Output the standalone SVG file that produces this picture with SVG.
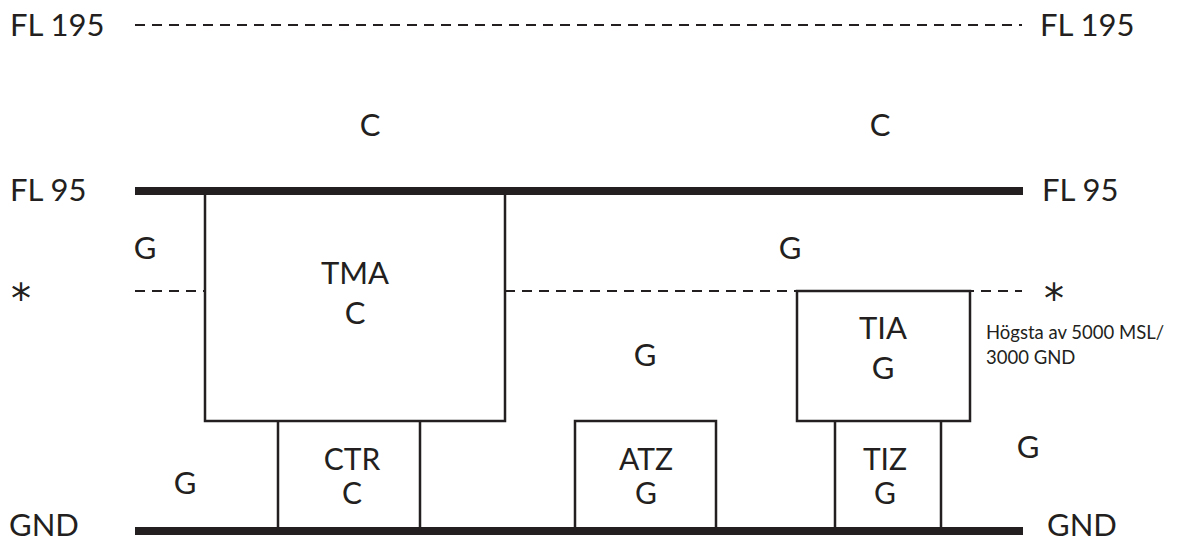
<svg xmlns="http://www.w3.org/2000/svg" width="1184" height="542" viewBox="0 0 1184 542">
<style>
text{font-family:Lato,"Open Sans","Liberation Sans",sans-serif;fill:#231f20}
.lbl{font-size:31px}
.in{font-size:30px}
.c{text-anchor:middle}
.sm{font-size:18.5px}
.star{font-family:"DejaVu Sans",sans-serif;font-size:40px;text-anchor:middle}
.box{fill:none;stroke:#231f20;stroke-width:2.5}
.thick{stroke:#231f20;stroke-width:8}
.dash{stroke:#231f20;stroke-width:2;stroke-dasharray:10 7}
</style>
<rect width="1184" height="542" fill="#fff"/>
<g id="levels">
<text class="lbl" x="10" y="36">FL 195</text>
<text class="lbl" x="1040" y="36">FL 195</text>
<text class="lbl" x="10" y="201">FL 95</text>
<text class="lbl" x="1042" y="201">FL 95</text>
<text class="star" x="21" y="313">*</text>
<text class="star" x="1054" y="313">*</text>
<text class="lbl" x="9" y="536">GND</text>
<text class="lbl" x="1047" y="536">GND</text>
</g>
<g id="connectors">
<line class="dash" x1="135" y1="25" x2="1022" y2="25"/>
<line class="thick" x1="135" y1="191" x2="1023" y2="191"/>
<line class="dash" x1="135" y1="291" x2="205" y2="291"/>
<line class="dash" x1="505" y1="291" x2="1022" y2="291"/>
<line class="thick" x1="135" y1="531" x2="1023" y2="531"/>
</g>
<g id="airspace-labels">
<text class="lbl c" x="370" y="136">C</text>
<text class="lbl c" x="880" y="136">C</text>
<text class="lbl c" x="145" y="259">G</text>
<text class="lbl c" x="790" y="259">G</text>
<text class="lbl c" x="645" y="366">G</text>
<text class="lbl c" x="185" y="494">G</text>
<text class="lbl c" x="1028" y="458">G</text>
<text class="sm" x="986" y="339">Högsta av 5000 MSL/</text>
<text class="sm" x="986" y="364">3000 GND</text>
</g>
<g id="tma">
<rect class="box" x="205" y="191" width="300" height="230"/>
<text class="lbl c" x="355" y="284">TMA</text>
<text class="lbl c" x="355" y="324">C</text>
</g>
<g id="tia">
<rect class="box" x="797" y="291" width="173" height="130"/>
<text class="lbl c" x="883" y="339">TIA</text>
<text class="lbl c" x="883" y="379">G</text>
</g>
<g id="ctr">
<path class="box" d="M278 421V531M420 421V531"/>
<text class="in c" x="352" y="470">CTR</text>
<text class="in c" x="352" y="504">C</text>
</g>
<g id="atz">
<path class="box" d="M575 531V421H716V531"/>
<text class="in c" x="646" y="470">ATZ</text>
<text class="in c" x="646" y="504">G</text>
</g>
<g id="tiz">
<path class="box" d="M835 421V531M941 421V531"/>
<text class="in c" x="885" y="470">TIZ</text>
<text class="in c" x="885" y="504">G</text>
</g>
</svg>
